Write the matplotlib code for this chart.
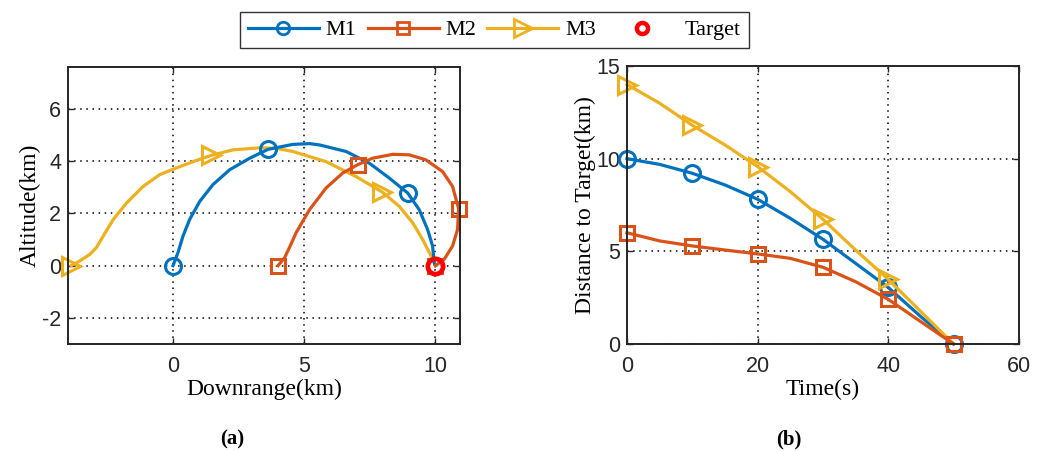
import matplotlib
matplotlib.use('Agg')
import matplotlib.pyplot as plt
from matplotlib.lines import Line2D

# trajectories in the downrange / altitude plane (km)
m1_x = [0, 0.19, 0.38, 0.63, 1.02, 1.52, 2.16, 2.92, 3.62, 4.56, 5.2, 5.58, 6.59, 7.48, 8.24,
        8.94, 9.38, 9.7, 9.89, 9.95, 10]
m1_y = [0, 0.5, 1.13, 1.76, 2.46, 3.1, 3.67, 4.11, 4.45, 4.64, 4.67, 4.62, 4.37, 3.92, 3.35,
        2.78, 2.14, 1.38, 0.75, 0.11, 0]
m1_marks = [0, 8, 15, 20]

m2_x = [4.0, 4.25, 4.44, 4.69, 5.2, 5.83, 6.46, 7.03, 7.6, 8.37, 9.0, 9.63, 10.27, 10.65,
        10.88, 10.84, 10.65, 10.33, 10]
m2_y = [0, 0.3, 0.7, 1.26, 2.14, 2.97, 3.54, 3.86, 4.11, 4.26, 4.24, 4.05, 3.6, 3.03,
        2.18, 1.38, 0.75, 0.24, 0]
m2_marks = [0, 7, 14, 18]

m3_x = [-3.88, -3.55, -3.17, -2.92, -2.66, -2.28, -1.77, -1.14, -0.51, 0.03, 0.76, 1.46, 2.28,
        3.3, 3.93, 4.56, 5.83, 6.97, 7.98, 8.62, 9.13, 9.51, 9.83, 10]
m3_y = [0, 0.18, 0.43, 0.69, 1.13, 1.76, 2.4, 3.03, 3.48, 3.7, 3.98, 4.22, 4.43,
        4.51, 4.49, 4.37, 3.98, 3.41, 2.81, 2.27, 1.64, 1.0, 0.37, 0]
m3_marks = [0, 11, 18]

target = (10, 0)

# distance to target over time
t = [0, 5, 10, 15, 20, 25, 30, 35, 40, 45, 50]
d1 = [10.0, 9.69, 9.21, 8.58, 7.81, 6.78, 5.65, 4.35, 3.05, 1.47, 0]
d2 = [6.0, 5.56, 5.29, 5.07, 4.86, 4.62, 4.14, 3.36, 2.41, 1.2, 0]
d3 = [14.0, 12.99, 11.8, 10.74, 9.57, 8.22, 6.73, 5.07, 3.49, 1.74, 0]

c1, c2, c3 = '#0072BD', '#D95319', '#EDB120'
lw = 2.3
mk = dict(markeredgewidth=2.2, markerfacecolor='none', clip_on=False)
mk_o = dict(mk, marker='o', markersize=11.5)
mk_s = dict(mk, marker='s', markersize=10.5)
mk_t = dict(mk, marker='>', markersize=13.5)

plt.rcParams['font.family'] = 'Liberation Serif'
plt.rcParams['axes.unicode_minus'] = False

fig = plt.figure(figsize=(10.45, 4.51), dpi=100)
ax1 = fig.add_axes([0.0651, 0.2373, 0.375, 0.614])
ax2 = fig.add_axes([0.600, 0.2373, 0.375, 0.6164])

ax1.plot(m3_x, m3_y, color=c3, lw=lw, markevery=m3_marks, markeredgecolor=c3, **mk_t)
ax1.plot(m1_x, m1_y, color=c1, lw=lw, markevery=m1_marks, markeredgecolor=c1, **mk_o)
ax1.plot(m2_x, m2_y, color=c2, lw=lw, markevery=m2_marks, markeredgecolor=c2, **mk_s)
ax1.plot(*target, 'o', color='red', markersize=11, markeredgewidth=3.4, markerfacecolor='none',
         clip_on=False, zorder=5)
ax1.set_xlim(-4.0, 10.93)
ax1.set_ylim(-3, 7.6)
ax1.set_xticks([0, 5, 10])
ax1.set_yticks([-2, 0, 2, 4, 6])
ax1.set_xlabel('Downrange(km)', fontsize=17, labelpad=1)
ax1.set_ylabel('Altitude(km)', fontsize=17, labelpad=1)

ax2.plot(t, d1, color=c1, lw=lw, markevery=2, markeredgecolor=c1, **mk_o)
ax2.plot(t, d3, color=c3, lw=lw, markevery=[0, 2, 4, 6, 8], markeredgecolor=c3, **mk_t)
ax2.plot(t, d2, color=c2, lw=lw, markevery=2, markeredgecolor=c2, **mk_s)
ax2.set_xlim(0, 60)
ax2.set_ylim(0, 15)
ax2.set_xticks([0, 20, 40, 60])
ax2.set_yticks([0, 5, 10, 15])
ax2.set_xlabel('Time(s)', fontsize=17, labelpad=1)
ax2.set_ylabel('Distance to Target(km)', fontsize=17, labelpad=0)

for ax in (ax1, ax2):
    ax.grid(True, color='k', linestyle=(0, (1, 3)), linewidth=1.1)
    ax.set_axisbelow(True)
    ax.tick_params(direction='in', top=True, right=True, length=4, width=1,
                   labelsize=15.5, colors='#262626')
    ax.tick_params(axis='x', pad=9)
    ax.tick_params(axis='y', pad=5)
    for lbl in ax.get_xticklabels() + ax.get_yticklabels():
        lbl.set_family('Liberation Sans')
    for s in ax.spines.values():
        s.set_linewidth(1.4)
        s.set_color('#262626')

fig.text(0.222, 0.015, '(a)', fontsize=15, fontweight='bold', ha='center')
fig.text(0.755, 0.015, '(b)', fontsize=15, fontweight='bold', ha='center')

handles = [
    Line2D([], [], color=c1, lw=lw, marker='o', markersize=9, markeredgewidth=2.0, markerfacecolor='none'),
    Line2D([], [], color=c2, lw=lw, marker='s', markersize=8, markeredgewidth=2.0, markerfacecolor='none'),
    Line2D([], [], color=c3, lw=lw, marker='>', markersize=13, markeredgewidth=2.0, markerfacecolor='none'),
    Line2D([], [], color='red', lw=0, marker='o', markersize=8, markeredgewidth=3.2, markerfacecolor='none'),
]
leg = fig.legend(handles, ['M1', 'M2', 'M3', 'Target'], loc='center', bbox_to_anchor=(0.473, 0.933),
                 ncol=4, fontsize=16, frameon=True, fancybox=False, handlelength=3.2,
                 columnspacing=0.5, handletextpad=0.3, borderpad=0.35, borderaxespad=0)
leg.get_frame().set_edgecolor('k')
leg.get_frame().set_linewidth(1.0)

fig.savefig('out.png', dpi=100)
